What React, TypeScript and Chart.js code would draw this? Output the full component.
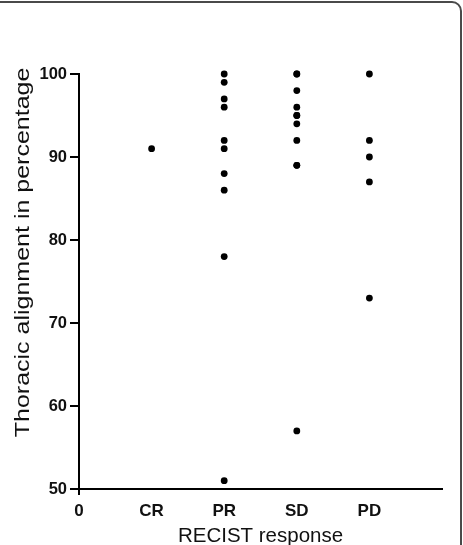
import React, { useEffect, useRef } from 'react';
import { Chart, registerables } from 'chart.js';

Chart.register(...registerables);

// ---- data ----
const categories = ['0', 'CR', 'PR', 'SD', 'PD'];
const crValues = [91];
const prValues = [100, 99, 97, 96, 92, 91, 88, 86, 78, 51];
const sdValues = [100, 100, 98, 96, 95, 95, 94, 92, 89, 89, 57];
const pdValues = [100, 92, 90, 87, 73];
const yTickValues = [50, 60, 70, 80, 90, 100];
const yTitle = 'Thoracic alignment in percentage';
const xTitle = 'RECIST response';

const groups = [
  { name: 'CR', values: crValues },
  { name: 'PR', values: prValues },
  { name: 'SD', values: sdValues },
  { name: 'PD', values: pdValues },
];

const FONT = '"Liberation Sans", Arial, Helvetica, sans-serif';

const yTitlePlugin = {
  id: 'yTitleStretched',
  afterDraw(chart: any) {
    const ctx = chart.ctx;
    const { top, bottom } = chart.chartArea;
    ctx.save();
    ctx.translate(23, top + (bottom - top) * 0.43);
    ctx.rotate(-Math.PI / 2);
    ctx.scale(1.25, 1);
    ctx.font = `20px ${FONT}`;
    ctx.fillStyle = '#111';
    ctx.textAlign = 'center';
    ctx.textBaseline = 'middle';
    ctx.fillText(yTitle, 0, 0);
    ctx.restore();
  },
};

export default function App() {
  const ref = useRef<HTMLCanvasElement>(null);

  useEffect(() => {
    if (!ref.current) return;
    const chart = new Chart(ref.current, {
      type: 'scatter',
      data: {
        datasets: groups.map((g) => ({
          label: g.name,
          data: g.values.map((v) => ({ x: categories.indexOf(g.name), y: v })),
          backgroundColor: '#000',
          borderColor: '#000',
          pointRadius: 3.4,
          pointBorderWidth: 0,
          clip: false,
        })),
      },
      options: {
        animation: false,
        responsive: false,
        maintainAspectRatio: false,
        layout: { padding: { left: 0, right: 21, top: 74, bottom: -4 } },
        plugins: { legend: { display: false }, tooltip: { enabled: false } },
        scales: {
          x: {
            type: 'linear',
            min: 0,
            max: categories.length,
            afterBuildTicks: (scale: any) => {
              scale.ticks = categories.map((_, i) => ({ value: i }));
            },
            afterFit: (scale: any) => {
              scale.height = 60;
            },
            ticks: {
              autoSkip: false,
              maxRotation: 0,
              padding: 6,
              color: '#111',
              font: { family: FONT, size: 17, weight: 'bold' },
              callback: (v: any) => categories[v] ?? '',
            },
            grid: {
              drawOnChartArea: false,
              drawTicks: true,
              tickLength: 6,
              lineWidth: 2,
              color: (c: any) => (c.tick && c.tick.value === 0 ? '#000' : 'rgba(0,0,0,0)'),
            },
            border: { display: true, color: '#000', width: 2 },
            title: {
              display: true,
              text: xTitle,
              color: '#111',
              font: { family: FONT, size: 20.5 },
              padding: { top: 0, bottom: 0 },
            },
          },
          y: {
            type: 'linear',
            min: 50,
            max: 100,
            afterBuildTicks: (scale: any) => {
              scale.ticks = yTickValues.map((v) => ({ value: v }));
            },
            afterFit: (scale: any) => {
              scale.width = 79;
            },
            ticks: {
              padding: 3,
              color: '#111',
              font: { family: FONT, size: 16.5, weight: 'bold' },
            },
            grid: {
              drawOnChartArea: false,
              drawTicks: true,
              tickLength: 9,
              lineWidth: 2,
              color: '#000',
            },
            border: { display: true, color: '#000', width: 2 },
            title: { display: false },
          },
        },
      },
      plugins: [yTitlePlugin],
    } as any);
    return () => chart.destroy();
  }, []);

  return (
    <div style={{ position: 'absolute', left: 0, top: 0, width: 463, height: 545, background: '#fff', overflow: 'hidden' }}>
      <canvas ref={ref} width={463} height={545} style={{ position: 'absolute', left: 0, top: 0 }} />
      <div
        style={{
          position: 'absolute',
          left: -10,
          top: 1,
          width: 468,
          height: 600,
          border: '2px solid #4a4a4a',
          borderRadius: 10,
          pointerEvents: 'none',
        }}
      />
    </div>
  );
}
